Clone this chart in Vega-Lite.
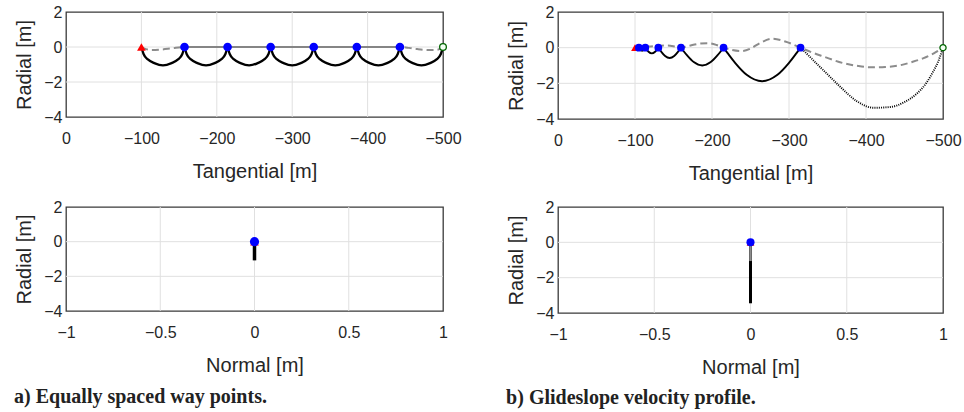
{
  "$schema": "https://vega.github.io/schema/vega-lite/v6.json",
  "background": "white",
  "padding": {"left": 14, "top": 3, "right": 3, "bottom": 3},
  "datasets": {
    "gridT": [{"t":-100},{"t":-200},{"t":-300},{"t":-400}],
    "gridN": [{"n":-0.5},{"n":0},{"n":0.5}],
    "gridR": [{"r":-2},{"r":0}],
    "arcL": [
      {"t":-100,"r":0,"g":1},{"t":-102.86,"r":-0.40,"g":1},{"t":-108.57,"r":-0.71,"g":1},{"t":-117.14,"r":-0.92,"g":1},{"t":-128.57,"r":-1.05,"g":1},{"t":-140.0,"r":-0.92,"g":1},{"t":-148.57,"r":-0.71,"g":1},{"t":-154.29,"r":-0.40,"g":1},{"t":-157.14,"r":0,"g":1},
      {"t":-157.14,"r":0,"g":2},{"t":-160.0,"r":-0.40,"g":2},{"t":-165.71,"r":-0.71,"g":2},{"t":-174.29,"r":-0.92,"g":2},{"t":-185.71,"r":-1.05,"g":2},{"t":-197.14,"r":-0.92,"g":2},{"t":-205.71,"r":-0.71,"g":2},{"t":-211.43,"r":-0.40,"g":2},{"t":-214.29,"r":0,"g":2},
      {"t":-214.29,"r":0,"g":3},{"t":-217.14,"r":-0.40,"g":3},{"t":-222.86,"r":-0.71,"g":3},{"t":-231.43,"r":-0.92,"g":3},{"t":-242.86,"r":-1.05,"g":3},{"t":-254.29,"r":-0.92,"g":3},{"t":-262.86,"r":-0.71,"g":3},{"t":-268.57,"r":-0.40,"g":3},{"t":-271.43,"r":0,"g":3},
      {"t":-271.43,"r":0,"g":4},{"t":-274.29,"r":-0.40,"g":4},{"t":-280.0,"r":-0.71,"g":4},{"t":-288.57,"r":-0.92,"g":4},{"t":-300.0,"r":-1.05,"g":4},{"t":-311.43,"r":-0.92,"g":4},{"t":-320.0,"r":-0.71,"g":4},{"t":-325.71,"r":-0.40,"g":4},{"t":-328.57,"r":0,"g":4},
      {"t":-328.57,"r":0,"g":5},{"t":-331.43,"r":-0.40,"g":5},{"t":-337.14,"r":-0.71,"g":5},{"t":-345.71,"r":-0.92,"g":5},{"t":-357.14,"r":-1.05,"g":5},{"t":-368.57,"r":-0.92,"g":5},{"t":-377.14,"r":-0.71,"g":5},{"t":-382.86,"r":-0.40,"g":5},{"t":-385.71,"r":0,"g":5},
      {"t":-385.71,"r":0,"g":6},{"t":-388.57,"r":-0.40,"g":6},{"t":-394.29,"r":-0.71,"g":6},{"t":-402.86,"r":-0.92,"g":6},{"t":-414.29,"r":-1.05,"g":6},{"t":-425.71,"r":-0.92,"g":6},{"t":-434.29,"r":-0.71,"g":6},{"t":-440.0,"r":-0.40,"g":6},{"t":-442.86,"r":0,"g":6},
      {"t":-442.86,"r":0,"g":7},{"t":-445.71,"r":-0.40,"g":7},{"t":-451.43,"r":-0.71,"g":7},{"t":-460.0,"r":-0.92,"g":7},{"t":-471.43,"r":-1.05,"g":7},{"t":-482.86,"r":-0.92,"g":7},{"t":-491.43,"r":-0.71,"g":7},{"t":-497.14,"r":-0.40,"g":7},{"t":-500,"r":0,"g":7}
    ],
    "dashL": [
      {"t":-100,"r":0},{"t":-106,"r":-0.12},{"t":-114,"r":-0.17},{"t":-125,"r":-0.15},{"t":-140,"r":-0.08},{"t":-157.14,"r":0},
      {"t":-442.86,"r":0},{"t":-455,"r":-0.05},{"t":-466,"r":-0.12},{"t":-480,"r":-0.17},{"t":-492,"r":-0.16},{"t":-500,"r":0}
    ],
    "solidL": [{"t":-157.14,"r":0},{"t":-442.86,"r":0}],
    "wpL": [{"t":-157.14,"r":0},{"t":-214.29,"r":0},{"t":-271.43,"r":0},{"t":-328.57,"r":0},{"t":-385.71,"r":0},{"t":-442.86,"r":0}],
    "startT": [{"t":-100,"r":0}],
    "endT": [{"t":-500,"r":0}],
    "arcR": [
      {"t":-100,"r":0,"g":1},{"t":-101.25,"r":-0.035,"g":1},{"t":-102.5,"r":-0.05,"g":1},{"t":-103.75,"r":-0.035,"g":1},{"t":-105,"r":0,"g":1},
      {"t":-105,"r":0,"g":2},{"t":-107.1,"r":-0.12,"g":2},{"t":-109.2,"r":-0.17,"g":2},{"t":-111.3,"r":-0.12,"g":2},{"t":-113.4,"r":0,"g":2},
      {"t":-113.4,"r":0,"g":3},{"t":-117.6,"r":-0.23,"g":3},{"t":-121.85,"r":-0.32,"g":3},{"t":-126.1,"r":-0.23,"g":3},{"t":-130.3,"r":0,"g":3},
      {"t":-130.3,"r":0,"g":4},{"t":-131.77,"r":-0.09,"g":4},{"t":-134.71,"r":-0.26,"g":4},{"t":-139.12,"r":-0.47,"g":4},{"t":-145.0,"r":-0.58,"g":4},{"t":-150.88,"r":-0.47,"g":4},{"t":-155.29,"r":-0.26,"g":4},{"t":-158.23,"r":-0.09,"g":4},{"t":-159.7,"r":0,"g":4},
      {"t":-159.7,"r":0,"g":5},{"t":-162.47,"r":-0.16,"g":5},{"t":-168.0,"r":-0.45,"g":5},{"t":-176.29,"r":-0.81,"g":5},{"t":-187.35,"r":-1.0,"g":5},{"t":-198.41,"r":-0.81,"g":5},{"t":-206.7,"r":-0.45,"g":5},{"t":-212.24,"r":-0.16,"g":5},{"t":-215,"r":0,"g":5},
      {"t":-215,"r":0,"g":6},{"t":-220,"r":-0.29,"g":6},{"t":-230,"r":-0.85,"g":6},{"t":-245,"r":-1.52,"g":6},{"t":-265,"r":-1.88,"g":6},{"t":-285,"r":-1.52,"g":6},{"t":-300,"r":-0.85,"g":6},{"t":-310,"r":-0.29,"g":6},{"t":-315,"r":0,"g":6}
    ],
    "arcG": [
      {"t":-315,"r":0},{"t":-325,"r":-0.42},{"t":-335,"r":-0.86},{"t":-345,"r":-1.28},{"t":-366,"r":-2.17},{"t":-388,"r":-3.0},{"t":-410,"r":-3.37},{"t":-431,"r":-3.33},{"t":-450,"r":-3.05},{"t":-466,"r":-2.58},{"t":-478,"r":-2.0},{"t":-487,"r":-1.36},{"t":-494,"r":-0.75},{"t":-500,"r":0}
    ],
    "dashR": [
      {"t":-100,"r":0},{"t":-108,"r":0.0},{"t":-118,"r":0.06},{"t":-130,"r":0.1},{"t":-142,"r":0.12},{"t":-152,"r":0.06},{"t":-159,"r":0.0},{"t":-170,"r":0.1},{"t":-183,"r":0.22},{"t":-195,"r":0.25},{"t":-206,"r":0.15},{"t":-215,"r":0.0},{"t":-226,"r":-0.13},{"t":-238,"r":-0.19},{"t":-250,"r":-0.05},{"t":-262,"r":0.25},{"t":-278,"r":0.5},{"t":-295,"r":0.35},{"t":-315,"r":0.0},{"t":-330,"r":-0.27},{"t":-345,"r":-0.5},{"t":-370,"r":-0.86},{"t":-390,"r":-1.03},{"t":-407,"r":-1.1},{"t":-425,"r":-1.08},{"t":-444,"r":-0.99},{"t":-460,"r":-0.8},{"t":-474,"r":-0.6},{"t":-488,"r":-0.32},{"t":-500,"r":0}
    ],
    "wpR": [{"t":-105,"r":0},{"t":-113.4,"r":0},{"t":-130.3,"r":0},{"t":-159.7,"r":0},{"t":-215,"r":0},{"t":-315,"r":0}],
    "origin": [{"n":0,"r":0}],
    "lineBL": [{"n":0,"r":0},{"n":0,"r":-1.08}],
    "lineBR": [{"n":0,"r":0},{"n":0,"r":-3.45}],
    "grayBR": [{"n":0,"r":0},{"n":0,"r":-1.06}]
  },
  "hconcat": [
    {
      "title": {"text": "a) Equally spaced way points.", "orient": "bottom", "anchor": "start", "font": "Liberation Serif", "fontSize": 20, "fontWeight": "bold", "color": "#222222", "offset": 11},
      "spacing": 16,
      "vconcat": [
        {
          "width": 377, "height": 105,
          "layer": [
            {"data": {"name": "gridT"}, "mark": {"type": "rule", "color": "#e0e0e0", "strokeWidth": 1}, "encoding": {"x": {"field": "t", "type": "quantitative", "scale": {"domain": [-500, 0], "reverse": true, "nice": false, "zero": false}, "axis": {"values": [0, -100, -200, -300, -400, -500], "format": "d", "title": "Tangential [m]"}}}},
            {"data": {"name": "gridR"}, "mark": {"type": "rule", "color": "#e0e0e0", "strokeWidth": 1}, "encoding": {"y": {"field": "r", "type": "quantitative", "scale": {"domain": [-4, 2], "nice": false, "zero": false}, "axis": {"values": [-4, -2, 0, 2], "format": "d", "title": "Radial [m]"}}}},
            {"data": {"name": "arcL"}, "mark": {"type": "line", "color": "black", "strokeWidth": 2.3, "interpolate": "monotone"}, "encoding": {"x": {"field": "t", "type": "quantitative", "axis": {"values": [0, -100, -200, -300, -400, -500], "format": "d", "title": "Tangential [m]"}}, "y": {"field": "r", "type": "quantitative", "axis": {"values": [-4, -2, 0, 2], "format": "d", "title": "Radial [m]"}}, "detail": {"field": "g"}}},
            {"data": {"name": "dashL"}, "mark": {"type": "line", "color": "#8c8c8c", "strokeWidth": 2, "strokeDash": [7, 4], "interpolate": "monotone"}, "encoding": {"x": {"field": "t", "type": "quantitative", "axis": {"values": [0, -100, -200, -300, -400, -500], "format": "d", "title": "Tangential [m]"}}, "y": {"field": "r", "type": "quantitative", "axis": {"values": [-4, -2, 0, 2], "format": "d", "title": "Radial [m]"}}}},
            {"data": {"name": "solidL"}, "mark": {"type": "line", "color": "#858585", "strokeWidth": 2}, "encoding": {"x": {"field": "t", "type": "quantitative", "axis": {"values": [0, -100, -200, -300, -400, -500], "format": "d", "title": "Tangential [m]"}}, "y": {"field": "r", "type": "quantitative", "axis": {"values": [-4, -2, 0, 2], "format": "d", "title": "Radial [m]"}}}},
            {"data": {"name": "startT"}, "mark": {"type": "point", "shape": "triangle-up", "filled": true, "color": "#ff0000", "size": 75, "opacity": 1}, "encoding": {"x": {"field": "t", "type": "quantitative", "axis": {"values": [0, -100, -200, -300, -400, -500], "format": "d", "title": "Tangential [m]"}}, "y": {"field": "r", "type": "quantitative", "axis": {"values": [-4, -2, 0, 2], "format": "d", "title": "Radial [m]"}}}},
            {"data": {"name": "wpL"}, "mark": {"type": "point", "shape": "circle", "filled": true, "color": "#0000ff", "size": 75, "opacity": 1}, "encoding": {"x": {"field": "t", "type": "quantitative", "axis": {"values": [0, -100, -200, -300, -400, -500], "format": "d", "title": "Tangential [m]"}}, "y": {"field": "r", "type": "quantitative", "axis": {"values": [-4, -2, 0, 2], "format": "d", "title": "Radial [m]"}}}},
            {"data": {"name": "endT"}, "mark": {"type": "point", "shape": "circle", "filled": true, "fill": "#f2fff2", "stroke": "#006400", "strokeWidth": 1.3, "size": 45, "opacity": 1}, "encoding": {"x": {"field": "t", "type": "quantitative", "axis": {"values": [0, -100, -200, -300, -400, -500], "format": "d", "title": "Tangential [m]"}}, "y": {"field": "r", "type": "quantitative", "axis": {"values": [-4, -2, 0, 2], "format": "d", "title": "Radial [m]"}}}}
          ]
        },
        {
          "width": 377, "height": 104,
          "layer": [
            {"data": {"name": "gridN"}, "mark": {"type": "rule", "color": "#e0e0e0", "strokeWidth": 1}, "encoding": {"x": {"field": "n", "type": "quantitative", "scale": {"domain": [-1, 1], "nice": false, "zero": false}, "axis": {"values": [-1, -0.5, 0, 0.5, 1], "format": "~g", "title": "Normal [m]"}}}},
            {"data": {"name": "gridR"}, "mark": {"type": "rule", "color": "#e0e0e0", "strokeWidth": 1}, "encoding": {"y": {"field": "r", "type": "quantitative", "scale": {"domain": [-4, 2], "nice": false, "zero": false}, "axis": {"values": [-4, -2, 0, 2], "format": "d", "title": "Radial [m]"}}}},
            {"data": {"name": "lineBL"}, "mark": {"type": "line", "color": "black", "strokeWidth": 3.5}, "encoding": {"x": {"field": "n", "type": "quantitative", "axis": {"values": [-1, -0.5, 0, 0.5, 1], "format": "~g", "title": "Normal [m]"}}, "y": {"field": "r", "type": "quantitative", "axis": {"values": [-4, -2, 0, 2], "format": "d", "title": "Radial [m]"}}}},
            {"data": {"name": "origin"}, "mark": {"type": "point", "shape": "triangle-up", "filled": true, "color": "#ff0000", "size": 75, "opacity": 1}, "encoding": {"x": {"field": "n", "type": "quantitative", "axis": {"values": [-1, -0.5, 0, 0.5, 1], "format": "~g", "title": "Normal [m]"}}, "y": {"field": "r", "type": "quantitative", "axis": {"values": [-4, -2, 0, 2], "format": "d", "title": "Radial [m]"}}}},
            {"data": {"name": "origin"}, "mark": {"type": "point", "shape": "circle", "filled": true, "color": "#0000ff", "size": 85, "opacity": 1}, "encoding": {"x": {"field": "n", "type": "quantitative", "axis": {"values": [-1, -0.5, 0, 0.5, 1], "format": "~g", "title": "Normal [m]"}}, "y": {"field": "r", "type": "quantitative", "axis": {"values": [-4, -2, 0, 2], "format": "d", "title": "Radial [m]"}}}}
          ]
        }
      ]
    },
    {
      "title": {"text": "b) Glideslope velocity profile.", "orient": "bottom", "anchor": "start", "font": "Liberation Serif", "fontSize": 20, "fontWeight": "bold", "color": "#222222", "offset": 10},
      "spacing": 14,
      "vconcat": [
        {
          "width": 385, "height": 107,
          "layer": [
            {"data": {"name": "gridT"}, "mark": {"type": "rule", "color": "#e0e0e0", "strokeWidth": 1}, "encoding": {"x": {"field": "t", "type": "quantitative", "scale": {"domain": [-500, 0], "reverse": true, "nice": false, "zero": false}, "axis": {"values": [0, -100, -200, -300, -400, -500], "format": "d", "title": "Tangential [m]"}}}},
            {"data": {"name": "gridR"}, "mark": {"type": "rule", "color": "#e0e0e0", "strokeWidth": 1}, "encoding": {"y": {"field": "r", "type": "quantitative", "scale": {"domain": [-4, 2], "nice": false, "zero": false}, "axis": {"values": [-4, -2, 0, 2], "format": "d", "title": "Radial [m]"}}}},
            {"data": {"name": "arcR"}, "mark": {"type": "line", "color": "black", "strokeWidth": 1.9, "interpolate": "monotone"}, "encoding": {"x": {"field": "t", "type": "quantitative", "axis": {"values": [0, -100, -200, -300, -400, -500], "format": "d", "title": "Tangential [m]"}}, "y": {"field": "r", "type": "quantitative", "axis": {"values": [-4, -2, 0, 2], "format": "d", "title": "Radial [m]"}}, "detail": {"field": "g"}}},
            {"data": {"name": "arcG"}, "mark": {"type": "line", "color": "black", "strokeWidth": 1.9, "strokeDash": [1, 1.2], "interpolate": "monotone"}, "encoding": {"x": {"field": "t", "type": "quantitative", "axis": {"values": [0, -100, -200, -300, -400, -500], "format": "d", "title": "Tangential [m]"}}, "y": {"field": "r", "type": "quantitative", "axis": {"values": [-4, -2, 0, 2], "format": "d", "title": "Radial [m]"}}}},
            {"data": {"name": "dashR"}, "mark": {"type": "line", "color": "#8c8c8c", "strokeWidth": 2, "strokeDash": [7, 4], "interpolate": "monotone"}, "encoding": {"x": {"field": "t", "type": "quantitative", "axis": {"values": [0, -100, -200, -300, -400, -500], "format": "d", "title": "Tangential [m]"}}, "y": {"field": "r", "type": "quantitative", "axis": {"values": [-4, -2, 0, 2], "format": "d", "title": "Radial [m]"}}}},
            {"data": {"name": "startT"}, "mark": {"type": "point", "shape": "triangle-up", "filled": true, "color": "#ff0000", "size": 60, "opacity": 1}, "encoding": {"x": {"field": "t", "type": "quantitative", "axis": {"values": [0, -100, -200, -300, -400, -500], "format": "d", "title": "Tangential [m]"}}, "y": {"field": "r", "type": "quantitative", "axis": {"values": [-4, -2, 0, 2], "format": "d", "title": "Radial [m]"}}}},
            {"data": {"name": "wpR"}, "mark": {"type": "point", "shape": "circle", "filled": true, "color": "#0000ff", "size": 60, "opacity": 1}, "encoding": {"x": {"field": "t", "type": "quantitative", "axis": {"values": [0, -100, -200, -300, -400, -500], "format": "d", "title": "Tangential [m]"}}, "y": {"field": "r", "type": "quantitative", "axis": {"values": [-4, -2, 0, 2], "format": "d", "title": "Radial [m]"}}}},
            {"data": {"name": "endT"}, "mark": {"type": "point", "shape": "circle", "filled": true, "fill": "#f2fff2", "stroke": "#006400", "strokeWidth": 1.3, "size": 38, "opacity": 1}, "encoding": {"x": {"field": "t", "type": "quantitative", "axis": {"values": [0, -100, -200, -300, -400, -500], "format": "d", "title": "Tangential [m]"}}, "y": {"field": "r", "type": "quantitative", "axis": {"values": [-4, -2, 0, 2], "format": "d", "title": "Radial [m]"}}}}
          ]
        },
        {
          "width": 385, "height": 106,
          "layer": [
            {"data": {"name": "gridN"}, "mark": {"type": "rule", "color": "#e0e0e0", "strokeWidth": 1}, "encoding": {"x": {"field": "n", "type": "quantitative", "scale": {"domain": [-1, 1], "nice": false, "zero": false}, "axis": {"values": [-1, -0.5, 0, 0.5, 1], "format": "~g", "title": "Normal [m]"}}}},
            {"data": {"name": "gridR"}, "mark": {"type": "rule", "color": "#e0e0e0", "strokeWidth": 1}, "encoding": {"y": {"field": "r", "type": "quantitative", "scale": {"domain": [-4, 2], "nice": false, "zero": false}, "axis": {"values": [-4, -2, 0, 2], "format": "d", "title": "Radial [m]"}}}},
            {"data": {"name": "lineBR"}, "mark": {"type": "line", "color": "black", "strokeWidth": 3}, "encoding": {"x": {"field": "n", "type": "quantitative", "axis": {"values": [-1, -0.5, 0, 0.5, 1], "format": "~g", "title": "Normal [m]"}}, "y": {"field": "r", "type": "quantitative", "axis": {"values": [-4, -2, 0, 2], "format": "d", "title": "Radial [m]"}}}},
            {"data": {"name": "grayBR"}, "mark": {"type": "line", "color": "#8c8c8c", "strokeWidth": 2.5}, "encoding": {"x": {"field": "n", "type": "quantitative", "axis": {"values": [-1, -0.5, 0, 0.5, 1], "format": "~g", "title": "Normal [m]"}}, "y": {"field": "r", "type": "quantitative", "axis": {"values": [-4, -2, 0, 2], "format": "d", "title": "Radial [m]"}}}},
            {"data": {"name": "origin"}, "mark": {"type": "point", "shape": "triangle-up", "filled": true, "color": "#ff0000", "size": 60, "opacity": 1}, "encoding": {"x": {"field": "n", "type": "quantitative", "axis": {"values": [-1, -0.5, 0, 0.5, 1], "format": "~g", "title": "Normal [m]"}}, "y": {"field": "r", "type": "quantitative", "axis": {"values": [-4, -2, 0, 2], "format": "d", "title": "Radial [m]"}}}},
            {"data": {"name": "origin"}, "mark": {"type": "point", "shape": "circle", "filled": true, "color": "#0000ff", "size": 65, "opacity": 1}, "encoding": {"x": {"field": "n", "type": "quantitative", "axis": {"values": [-1, -0.5, 0, 0.5, 1], "format": "~g", "title": "Normal [m]"}}, "y": {"field": "r", "type": "quantitative", "axis": {"values": [-4, -2, 0, 2], "format": "d", "title": "Radial [m]"}}}}
          ]
        }
      ]
    }
  ],
  "spacing": 44,
  "config": {
    "font": "Liberation Sans",
    "view": {"stroke": "#3a3a3a", "strokeWidth": 1.3},
    "axis": {
      "labelFont": "Liberation Sans", "labelFontSize": 16, "labelColor": "#262626",
      "titleFont": "Liberation Sans", "titleFontSize": 20, "titleFontWeight": "normal", "titleColor": "#262626",
      "grid": false, "labelOverlap": false, "labelFlush": false,
      "domain": false, "ticks": false
    },
    "axisX": {"labelPadding": 13, "titlePadding": 15},
    "axisY": {"labelPadding": 4, "titlePadding": 9}
  }
}
